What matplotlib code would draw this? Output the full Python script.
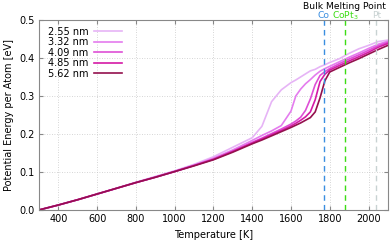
import matplotlib
matplotlib.use("Agg")
import matplotlib.pyplot as plt
import matplotlib.transforms as mtransforms

# temperature grid [K]
temperature = [300, 400, 500, 600, 700, 800, 900, 1000, 1100, 1200, 1300, 1400,
               1450, 1500, 1550, 1600, 1625, 1650, 1675, 1700, 1725, 1750, 1775,
               1800, 1850, 1900, 1950, 2000, 2050, 2100]

# potential energy per atom [eV] for each particle diameter
e_255 = [0, 0.013, 0.027, 0.042, 0.057, 0.073, 0.088, 0.103, 0.120, 0.140, 0.165, 0.190,
         0.220, 0.285, 0.316, 0.335, 0.342, 0.350, 0.358, 0.366, 0.370, 0.377, 0.382,
         0.388, 0.398, 0.412, 0.424, 0.433, 0.443, 0.447]
e_332 = [0, 0.013, 0.027, 0.042, 0.057, 0.072, 0.087, 0.102, 0.118, 0.136, 0.158, 0.183,
         0.196, 0.208, 0.222, 0.260, 0.300, 0.318, 0.332, 0.343, 0.355, 0.365, 0.372,
         0.378, 0.390, 0.402, 0.413, 0.425, 0.436, 0.444]
e_409 = [0, 0.013, 0.027, 0.042, 0.057, 0.072, 0.086, 0.101, 0.117, 0.134, 0.155, 0.178,
         0.189, 0.201, 0.213, 0.226, 0.234, 0.244, 0.262, 0.292, 0.330, 0.354, 0.364,
         0.372, 0.385, 0.397, 0.408, 0.420, 0.432, 0.441]
e_485 = [0, 0.013, 0.027, 0.042, 0.057, 0.072, 0.086, 0.101, 0.117, 0.133, 0.154, 0.176,
         0.187, 0.198, 0.209, 0.221, 0.228, 0.236, 0.245, 0.258, 0.290, 0.338, 0.357,
         0.368, 0.380, 0.392, 0.403, 0.415, 0.428, 0.438]
e_562 = [0, 0.013, 0.027, 0.042, 0.057, 0.072, 0.086, 0.101, 0.116, 0.132, 0.152, 0.174,
         0.184, 0.195, 0.206, 0.217, 0.223, 0.229, 0.236, 0.243, 0.258, 0.295, 0.340,
         0.363, 0.375, 0.387, 0.398, 0.410, 0.422, 0.433]

sizes = ["2.55 nm", "3.32 nm", "4.09 nm", "4.85 nm", "5.62 nm"]
colors = ["#e6b4f6", "#e47cee", "#de4fd6", "#d41aa6", "#94104e"]

# bulk melting points
melt_names = ["Co", "CoPt$_3$", "Pt"]
melt_temps = [1768, 1878, 2041]
melt_colors = ["#3a8ee0", "#3cdc14", "#c8d2d2"]

plt.rcParams["font.family"] = "DejaVu Sans"
plt.rcParams["font.size"] = 7

fig = plt.figure(figsize=(3.92, 2.43), dpi=100)
ax = fig.add_axes([0.0995, 0.136, 0.890, 0.782])

for vals, label, c in zip([e_255, e_332, e_409, e_485, e_562], sizes, colors):
    ax.plot(temperature, vals, color=c, lw=1.2, label=label)

trans = mtransforms.blended_transform_factory(ax.transData, ax.transAxes)
for name, t, c in zip(melt_names, melt_temps, melt_colors):
    ax.axvline(t, color=c, ls=(0, (4, 3)), lw=1.0)
    ax.text(t, 1.01, name, color=c, transform=trans, ha="center", va="baseline",
            fontsize=6.6)
ax.text(1876, 1.06, "Bulk Melting Point", transform=trans, ha="center", va="baseline",
        fontsize=6.6)

ax.set_xlim(300, 2100)
ax.set_ylim(0, 0.5)
ax.set_xticks([400, 600, 800, 1000, 1200, 1400, 1600, 1800, 2000])
ax.set_yticks([0.0, 0.1, 0.2, 0.3, 0.4, 0.5])
ax.yaxis.set_major_formatter(matplotlib.ticker.FormatStrFormatter("%.1f"))
ax.set_xlabel("Temperature [K]", labelpad=4)
ax.set_ylabel("Potential Energy per Atom [eV]", labelpad=4)

ax.grid(True, color="#c8c8c8", ls=(0, (1, 2)), lw=0.6)
ax.tick_params(direction="in", top=True, right=True, length=3, color="#888888", pad=3)
for s in ax.spines.values():
    s.set_color("#888888")
    s.set_linewidth(0.8)

leg = ax.legend(loc="upper left", markerfirst=False, frameon=False, handlelength=2.9,
                labelspacing=0.05, borderaxespad=0.3, handletextpad=0.6,
                bbox_to_anchor=(0.005, 1.0))
for t in leg.get_texts():
    t.set_ha("right")

fig.savefig("out.png", dpi=100)
